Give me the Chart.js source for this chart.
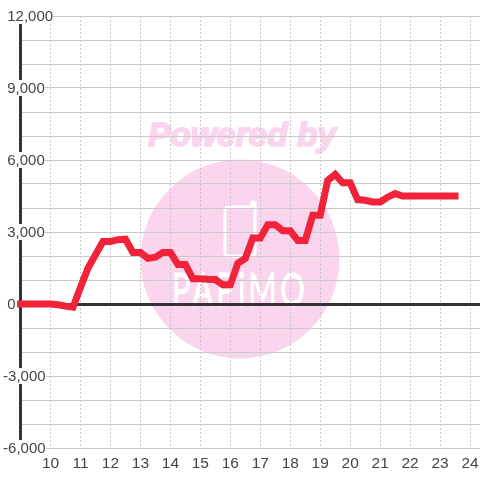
<!DOCTYPE html>
<html><head><meta charset="utf-8">
<style>html,body{margin:0;padding:0;background:#fff}canvas{display:block}</style>
<script src="https://cdn.jsdelivr.net/npm/chart.js@4"></script>
</head><body><canvas id="c" width="480" height="480"></canvas>
<script>
const hours=[9,10,10.25,10.5,10.75,11,11.25,11.5,11.75,12,12.25,12.5,12.75,13,13.25,13.5,13.75,14,14.25,14.5,14.75,15,15.25,15.5,15.75,16,16.25,16.5,16.75,17,17.25,17.5,17.75,18,18.25,18.5,18.75,19,19.25,19.5,19.75,20,20.25,20.5,20.75,21,21.25,21.5,21.75,22,22.5,23,23.5];
const values=[0,0,-30,-90,-130,700,1500,2050,2600,2600,2680,2700,2150,2150,1900,1950,2150,2150,1650,1650,1050,1050,1030,1020,800,800,1700,1900,2750,2750,3300,3300,3050,3050,2650,2650,3700,3700,5150,5400,5050,5050,4350,4320,4250,4250,4450,4600,4500,4500,4500,4500,4500];
const yLabels={"-6000":"-6,000","-3000":"-3,000","0":" 0","3000":" 3,000","6000":" 6,000","9000":" 9,000","12000":" 12,000"};
const xTickHours=[10,11,12,13,14,15,16,17,18,19,20,21,22,23,24];
let labelsNudged=false;
const watermark={
  id:'watermark',
  beforeDraw(chart){
    if(!labelsNudged){
      labelsNudged=true;
      chart.scales.y.getLabelItems().forEach(it=>{
        it.options.translation=[it.options.translation[0],it.options.translation[1]+1];
        if(it.options.backdrop) it.options.backdrop.top-=1;
      });
    }
    const g=chart.ctx,pink='#fbd5ee';
    g.save();
    g.fillStyle=pink;
    g.beginPath();g.arc(240,259,99.5,0,Math.PI*2);g.fill();
    g.font='italic bold 34px "Liberation Sans"';
    g.textAlign='left';g.textBaseline='alphabetic';
    g.fillText('Powered by',148,146,188);
    g.lineWidth=2;g.lineJoin='round';g.strokeStyle=pink;g.strokeText('Powered by',148,146,188);
    g.strokeStyle='#fff';g.lineWidth=3;g.lineJoin='round';
    g.beginPath();
    g.moveTo(255,202);g.lineTo(255,252);g.quadraticCurveTo(255,256,251,256);
    g.lineTo(229,256);g.quadraticCurveTo(225,256,225,252);g.lineTo(225,211);
    g.quadraticCurveTo(225,207,229,207);g.lineTo(252,207);
    g.moveTo(252,207);g.lineTo(252,202);g.lineTo(255,202);
    g.stroke();
    g.fillStyle='#fff';g.strokeStyle='#fff';g.lineWidth=1;
    g.font='400 46px Lato';
    g.letterSpacing='5px';
    g.fillText('PAPiMO',172,306,136);
    g.strokeText('PAPiMO',172,306,136);
    g.restore();
  }
};
new Chart(document.getElementById('c'),{
  type:'line',
  data:{datasets:[{
    data:hours.map((h,i)=>({x:h,y:values[i]})),
    borderColor:'#f0233a',borderWidth:7,borderCapStyle:'square',borderJoinStyle:'miter',
    pointRadius:0,tension:0,clip:false,fill:false
  }]},
  plugins:[watermark],
  options:{
    responsive:false,animation:false,
    layout:{padding:{left:20.6,top:16,right:0,bottom:0}},
    plugins:{legend:{display:false},title:{display:false},tooltip:{enabled:false}},
    scales:{
      x:{type:'linear',min:9,max:24+1/3,
        afterFit(s){s.height=32;s.paddingRight=0;s.paddingLeft=0;},
        border:{display:false,dash:[2,2]},
        grid:{color:'#c8c8c8',lineWidth:1,drawTicks:false},
        ticks:{stepSize:1,includeBounds:false,autoSkip:false,maxRotation:0,padding:6,color:'#444',
          font:{family:'"Liberation Sans"',size:15.5},
          callback:v=>xTickHours.includes(v)?String(v):''}
      },
      y:{type:'linear',min:-6000,max:12000,position:'left',
        afterFit(s){s.width=0;s.paddingTop=0;s.paddingBottom=0;},
        border:{display:true,color:'#333',width:3},
        grid:{drawTicks:false,
          color:c=>c.tick&&c.tick.value===0?'#333':'#c8ccc8',
          lineWidth:c=>c.tick&&c.tick.value===0?3:1},
        ticks:{stepSize:1000,includeBounds:false,autoSkip:false,mirror:true,crossAlign:'near',padding:-17.5,color:'#444',
          font:{family:'"Liberation Sans"',size:15,lineHeight:1.07},
          showLabelBackdrop:true,backdropColor:'#fff',backdropPadding:0,
          callback:v=>yLabels[String(v)]||''}
      }
    }
  }
});
</script></body></html>
